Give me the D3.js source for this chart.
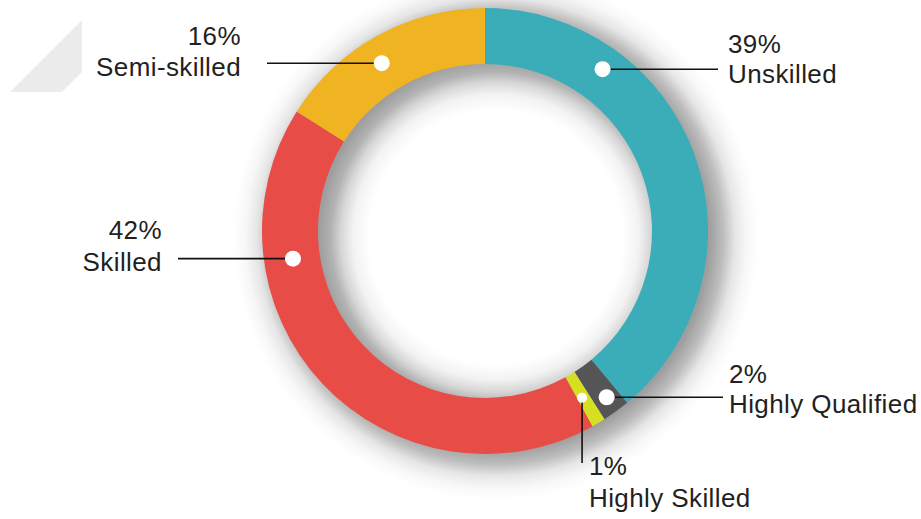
<!DOCTYPE html>
<html>
<head>
<meta charset="utf-8">
<script src="https://cdn.jsdelivr.net/npm/d3@7"></script>
<style>
  html, body { margin: 0; padding: 0; background: #fff; }
  svg { display: block; }
  text { font-family: "Liberation Sans", Arial, sans-serif; fill: #231f20; letter-spacing: 0.4px; }
</style>
</head>
<body>
<svg id="chart" width="921" height="519"></svg>
<script>
// ---- Data ----
const categories = ["Unskilled", "Highly Qualified", "Highly Skilled", "Skilled", "Semi-skilled"];
const values = [39, 2, 1, 42, 16];
const colors = ["#3aadb8", "#555558", "#d6df22", "#e84c47", "#f0b322"];

// ---- Layout (label placement, not data) ----
const cx = 485, cy = 231, rOuter = 223, rInner = 167;
const labelLayout = {
  "Unskilled":        { dotDeg: 36.0,  dotR: 200, dotSize: 8, leader: "h", to: 718, tx: 728, anchor: "start", y1: 53,  y2: 83 },
  "Highly Qualified": { dotDeg: 143.8, dotR: 206, dotSize: 8, leader: "h", to: 723, tx: 729, anchor: "start", y1: 383, y2: 413 },
  "Highly Skilled":   { dotDeg: 149.8, dotR: 193, dotSize: 5, leader: "v", to: 463, tx: 589, anchor: "start", y1: 475, y2: 507 },
  "Skilled":          { dotDeg: 261.8, dotR: 194, dotSize: 8, leader: "h", to: 178, tx: 162, anchor: "end",   y1: 239, y2: 271 },
  "Semi-skilled":     { dotDeg: 328.4, dotR: 197, dotSize: 8, leader: "h", to: 267, tx: 241, anchor: "end",   y1: 45,  y2: 76 }
};

const data = categories.map((c, i) => ({ name: c, value: values[i], color: colors[i] }));

const svg = d3.select("#chart");

// Soft shadow via radial gradient annulus (offset right/down)
const sdx = 11, sdy = 6, spread = 40;
const R = rOuter + spread;
const defs = svg.append("defs");
const grad = defs.append("radialGradient").attr("id", "shadowGrad")
  .attr("gradientUnits", "userSpaceOnUse")
  .attr("cx", cx + sdx).attr("cy", cy + sdy).attr("r", R);
const stops = [
  [(rInner - spread) / R, 0],
  [(rInner - spread * 0.6) / R, 0.05],
  [(rInner - spread * 0.3) / R, 0.16],
  [(rInner - spread * 0.05) / R, 0.30],
  [(rInner + 10) / R, 0.38],
  [(rOuter - 10) / R, 0.38],
  [(rOuter + spread * 0.1) / R, 0.26],
  [(rOuter + spread * 0.4) / R, 0.10],
  [(rOuter + spread * 0.7) / R, 0.03],
  [1, 0]
];
stops.forEach(([o, a]) => grad.append("stop")
  .attr("offset", o).attr("stop-color", "#000").attr("stop-opacity", a));

// Decorative light shape top-left
svg.append("path")
  .attr("d", "M82,20 L82,72 L62,92 L10,92 Z")
  .attr("fill", "#ececec");

svg.append("circle")
  .attr("cx", cx + sdx).attr("cy", cy + sdy).attr("r", R)
  .attr("fill", "url(#shadowGrad)");

const pie = d3.pie().value(d => d.value).sort(null);
const arc = d3.arc().innerRadius(rInner).outerRadius(rOuter);

const g = svg.append("g").attr("transform", `translate(${cx},${cy})`);

g.selectAll("path")
  .data(pie(data))
  .join("path")
  .attr("d", arc)
  .attr("fill", d => d.data.color);

// labels
const rad = deg => deg * Math.PI / 180;
pie(data).forEach(d => {
  const L = labelLayout[d.data.name];
  const a = rad(L.dotDeg);
  const px = cx + L.dotR * Math.sin(a);
  const py = cy - L.dotR * Math.cos(a);
  if (L.leader === "h") {
    svg.append("line")
      .attr("x1", px).attr("y1", py).attr("x2", L.to).attr("y2", py)
      .attr("stroke", "#111").attr("stroke-width", 1.6);
  } else {
    svg.append("line")
      .attr("x1", px).attr("y1", py).attr("x2", px).attr("y2", L.to)
      .attr("stroke", "#111").attr("stroke-width", 1.6);
  }
  svg.append("circle")
    .attr("cx", px).attr("cy", py).attr("r", L.dotSize)
    .attr("fill", "#fff");
  svg.append("text")
    .attr("x", L.tx).attr("y", L.y1)
    .attr("text-anchor", L.anchor)
    .attr("font-size", 26)
    .text(d.data.value + "%");
  svg.append("text")
    .attr("x", L.tx).attr("y", L.y2)
    .attr("text-anchor", L.anchor)
    .attr("font-size", 26)
    .text(d.data.name);
});
</script>
</body>
</html>
